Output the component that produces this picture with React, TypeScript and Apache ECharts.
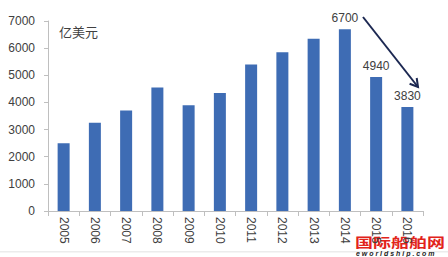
import React, { useEffect, useRef } from "react";
import * as echarts from "echarts";

const categories = ["2005", "2006", "2007", "2008", "2009", "2010", "2011", "2012", "2013", "2014", "2015", "2016"];
const values = [2500, 3250, 3700, 4550, 3900, 4350, 5400, 5850, 6350, 6700, 4940, 3830];
const labelledYears = ["2014", "2015", "2016"];
const yTicks = { min: 0, max: 7000, interval: 1000 };
const unitText = "亿美元";
const watermarkCn = "国际船舶网";
const watermarkEn = "eworldship.com";

export default function App() {
  const ref = useRef<HTMLDivElement>(null);
  useEffect(() => {
    if (!ref.current) return;
    const chart = echarts.init(ref.current, null, { renderer: "svg" });
    const font = "'Liberation Sans', Arial, sans-serif";
    chart.setOption({
      animation: false,
      backgroundColor: "#ffffff",
      grid: { left: 48, right: 25, top: 21, bottom: 46, containLabel: false },
      xAxis: {
        type: "category",
        data: categories,
        axisLine: { show: true, lineStyle: { color: "#bfbfbf", width: 1 } },
        axisTick: { show: true, alignWithLabel: false, length: 5, lineStyle: { color: "#bfbfbf" } },
        axisLabel: { rotate: -90, fontSize: 12, color: "#404040", margin: 6, fontFamily: font, interval: 0 },
        splitLine: { show: false },
      },
      yAxis: {
        type: "value",
        min: yTicks.min,
        max: yTicks.max,
        interval: yTicks.interval,
        axisLine: { show: true, lineStyle: { color: "#bfbfbf", width: 1 } },
        axisTick: { show: true, length: 4, lineStyle: { color: "#bfbfbf" } },
        axisLabel: {
          fontSize: 12,
          color: "#404040",
          margin: 13,
          fontFamily: font,
          formatter: (v: number) => String(v),
        },
        splitLine: { show: false },
      },
      series: [
        {
          type: "bar",
          barWidth: 12,
          itemStyle: { color: "#3e6cb4" },
          data: values.map((v, i) => ({
            value: v,
            label: {
              show: labelledYears.includes(categories[i]),
              position: "top",
              distance: 5,
              fontSize: 12,
              color: "#404040",
              fontFamily: font,
            },
          })),
        },
      ],
      graphic: [
        {
          type: "text",
          left: 59,
          top: 25,
          style: { text: unitText, fontSize: 13, fill: "#404040", fontFamily: "'Noto Sans CJK SC', sans-serif" },
        },
        {
          type: "line",
          shape: { x1: 363, y1: 17, x2: 418, y2: 87 },
          style: { stroke: "#1c2852", lineWidth: 2 },
        },
        {
          type: "polyline",
          shape: { points: [[416.7, 78], [418, 87], [409.6, 83.7]] },
          style: { stroke: "#1c2852", lineWidth: 2, fill: null },
        },
        {
          type: "rect",
          shape: { x: 0, y: 251, width: 448, height: 1.5 },
          style: { fill: "#ececec" },
        },
        {
          type: "text",
          x: 355,
          y: 235,
          scaleY: 0.72,
          style: {
            text: watermarkCn,
            fontSize: 18,
            fontWeight: "bold",
            fill: "#e2231a",
            stroke: "#ffffff",
            lineWidth: 1,
            textVerticalAlign: "top",
            fontFamily: "'Noto Sans CJK SC', sans-serif",
          },
        },
        {
          type: "text",
          x: 356,
          y: 250,
          style: {
            text: watermarkEn.split("").join(" "),
            fontSize: 7,
            fontWeight: "bold",
            fontStyle: "italic",
            fill: "#222222",
            textVerticalAlign: "top",
            fontFamily: font,
          },
        },
      ],
    });
    return () => chart.dispose();
  }, []);
  return <div ref={ref} style={{ position: "fixed", left: 0, top: 0, width: 448, height: 257 }} />;
}
